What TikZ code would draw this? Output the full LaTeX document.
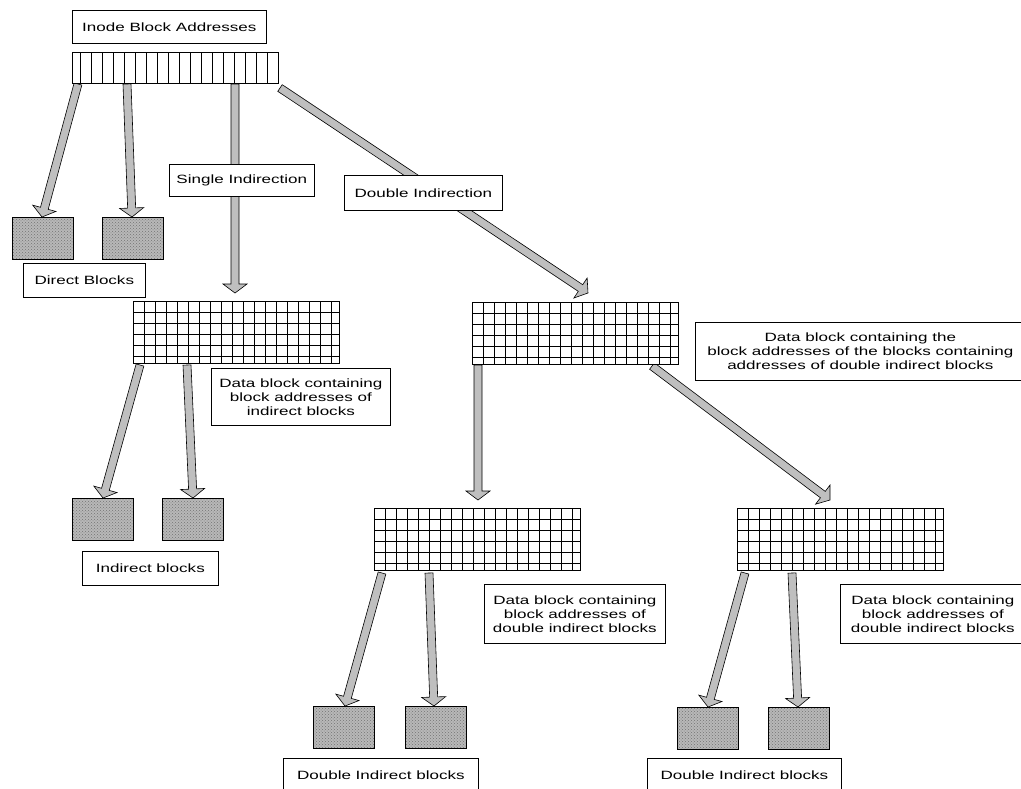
\documentclass[tikz,border=0pt]{standalone}
\usepackage{fontspec}
\setmainfont{Liberation Sans}[FakeStretch=1.42]
\usetikzlibrary{calc,patterns}

\tikzset{
  box/.style={draw, line width=0.7pt, fill=white, inner sep=0pt, anchor=north west,
    align=center, font=\fontsize{12}{14}\selectfont},
  blk/.style={draw, line width=0.7pt, inner sep=0pt, anchor=north west,
    minimum width=61pt, minimum height=42pt, preaction={fill=black!28},
    pattern=crosshatch dots, pattern color=black!55},
  fat/.style={draw, line width=0.6pt, fill=black!25, line join=miter},
  cellline/.style={line width=0.7pt},
  gridbox/.style={draw, line width=0.7pt, fill=white, inner sep=0pt, anchor=north west,
    minimum width=206pt, minimum height=62pt},
}

% wide block arrow from #1 to the tip #2
\newcommand\fatarrow[2]{%
  \coordinate (fa-h) at ($(#2)!9pt!(#1)$);
  \draw[fat] ($(#1)!4pt!90:(#2)$) -- ($(fa-h)!4pt!90:(#2)$) -- ($(fa-h)!12pt!90:(#2)$)
    -- (#2) -- ($(fa-h)!12pt!-90:(#2)$) -- ($(fa-h)!4pt!-90:(#2)$)
    -- ($(#1)!4pt!-90:(#2)$) -- cycle;}

% table of block addresses: name, x, y of the top left corner
\newcommand\addrgrid[3]{%
  \node[gridbox] (#1) at (#2,#3) {};
  \foreach \k in {1,...,18}
    \draw[cellline] ([xshift=\k*11pt]#1.north west) -- ([xshift=\k*11pt]#1.south west);
  \foreach \k in {1,...,5}
    \draw[cellline] ([yshift=-\k*11pt]#1.north west) -- ([yshift=-\k*11pt]#1.north east);
}

\begin{document}
\begin{tikzpicture}[x=1pt, y=-1pt]
\fill[white] (0,0) rectangle (1021,788);
\useasboundingbox (0,0) rectangle (1021,788);

% arrow end points
\coordinate (a1s) at (78,84);   \coordinate (a1t) at (42,217);
\coordinate (a2s) at (127,84);  \coordinate (a2t) at (132,217);
\coordinate (a3s) at (235,84);  \coordinate (a3t) at (235,293);
\coordinate (a4s) at (280,88);  \coordinate (a4t) at (588,293);
\coordinate (a5s) at (140,365); \coordinate (a5t) at (103,498);
\coordinate (a6s) at (187,365); \coordinate (a6t) at (193,498);
\coordinate (a7s) at (478,365); \coordinate (a7t) at (478,500);
\coordinate (a8s) at (652,366); \coordinate (a8t) at (830,500);
\coordinate (a9s) at (382,573); \coordinate (a9t) at (345,706);
\coordinate (a10s) at (429,573); \coordinate (a10t) at (434,706);
\coordinate (a11s) at (745,573); \coordinate (a11t) at (708,707);
\coordinate (a12s) at (792,573); \coordinate (a12t) at (798,707);

\fatarrow{a1s}{a1t}
\fatarrow{a2s}{a2t}
\fatarrow{a3s}{a3t}
\fatarrow{a4s}{a4t}
\fatarrow{a5s}{a5t}
\fatarrow{a6s}{a6t}
\fatarrow{a7s}{a7t}
\fatarrow{a8s}{a8t}
\fatarrow{a9s}{a9t}
\fatarrow{a10s}{a10t}
\fatarrow{a11s}{a11t}
\fatarrow{a12s}{a12t}

% inode address array
\node[box, minimum width=194pt, minimum height=33pt] (inodelbl) at (72,10) {Inode Block Addresses};
\node[gridbox, minimum width=206pt, minimum height=31pt] (inode) at (72,52) {};
\foreach \k in {0,...,17}
  \draw[cellline] ([xshift=8pt+\k*11pt]inode.north west) -- ([xshift=8pt+\k*11pt]inode.south west);

% direct blocks
\node[blk] (d1) at (12,217) {};
\node[blk] (d2) at (102,217) {};
\node[box, minimum width=122pt, minimum height=34pt] (directlbl) at (23,263) {Direct Blocks};

% single indirection
\node[box, minimum width=145pt, minimum height=32pt] (single) at (169,164) {Single Indirection};
\addrgrid{g1}{133}{301}
\node[box, minimum width=179pt, minimum height=57pt] (data1) at (211,368)
  {Data block containing\\block addresses of\\indirect blocks};
\node[blk] (i1) at (72,498) {};
\node[blk] (i2) at (162,498) {};
\node[box, minimum width=136pt, minimum height=34pt] (indlbl) at (82,551) {Indirect blocks};

% double indirection
\node[box, minimum width=158pt, minimum height=35pt] (double) at (344,175) {Double Indirection};
\addrgrid{g2}{472}{302}
\node[box, minimum width=330pt, minimum height=58pt] (data2) at (695,322)
  {Data block containing the\\block addresses of the blocks containing\\addresses of double indirect blocks};

\addrgrid{g3}{374}{508}
\node[box, minimum width=181pt, minimum height=59pt] (data3) at (484,584)
  {Data block containing\\block addresses of\\double indirect blocks};
\node[blk] (dd1) at (313,706) {};
\node[blk] (dd2) at (405,706) {};
\node[box, minimum width=195pt, minimum height=34pt] (ddlbl1) at (283,758) {Double Indirect blocks};

\addrgrid{g4}{737}{508}
\node[box, minimum width=185pt, minimum height=59pt] (data4) at (840,584)
  {Data block containing\\block addresses of\\double indirect blocks};
\node[blk] (dd3) at (677,707) {};
\node[blk] (dd4) at (768,707) {};
\node[box, minimum width=194pt, minimum height=34pt] (ddlbl2) at (647,758) {Double Indirect blocks};
\end{tikzpicture}
\end{document}
